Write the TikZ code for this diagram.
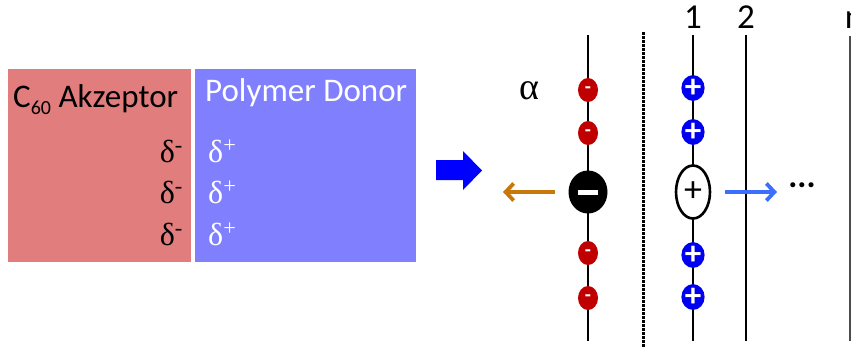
\documentclass[tikz,border=0pt]{standalone}
\usepackage{fontspec}
\setmainfont{Carlito}
\newfontfamily\grk{Liberation Serif}
\usetikzlibrary{shapes.geometric,arrows.meta,calc}

\definecolor{accred}{RGB}{225,125,125}
\definecolor{donblue}{RGB}{128,128,255}
\definecolor{chgred}{RGB}{192,0,0}
\definecolor{chgblue}{RGB}{0,0,240}
\definecolor{movorange}{RGB}{200,120,10}
\definecolor{movblue}{RGB}{60,110,255}

\tikzset{
  layer/.style={draw=black, line width=2.6pt},
  block/.style={anchor=north west, inner sep=0pt, minimum height=193pt},
  label/.style={font=\fontsize{33}{35}\selectfont, inner sep=0pt},
  index/.style={font=\fontsize{35}{36}\selectfont, inner sep=0pt},
  delta/.style={font=\grk\fontsize{32}{34}\selectfont, inner sep=0pt},
  negsmall/.style={ellipse, fill=chgred, minimum width=20pt, minimum height=24pt, inner sep=0pt,
    text=white, font=\bfseries\fontsize{20}{20}\selectfont},
  possmall/.style={ellipse, fill=chgblue, minimum width=21pt, minimum height=25pt, inner sep=0pt,
    text=white, font=\bfseries\fontsize{33}{33}\selectfont},
  move/.style={line width=3.8pt, -{Straight Barb[length=8pt,width=17pt]}},
}

\begin{document}
\begin{tikzpicture}[x=1pt,y=-1pt]
\useasboundingbox (0,0) rectangle (851,349);

% bilayer blocks
\node[block, fill=accred, minimum width=183pt] (acc) at (8,69) {};
\node[block, fill=donblue, minimum width=221pt] (don) at (195,69) {};

\node[label, anchor=base west] (acctitle) at (13,107) {C\raisebox{-7pt}{\fontsize{20}{20}\selectfont 60} Akzeptor};
\node[label, anchor=base west, text=white] (dontitle) at (205,101) {Polymer Donor};

\foreach \yy [count=\i] in {162,203,245}{
  \node[delta, anchor=base east] (dm\i) at (183,\yy) {δ\textsuperscript{-}};
  \node[delta, anchor=base west, text=white] (dp\i) at (208,\yy) {δ\textsuperscript{+}};
}

% block arrow
\fill[blue] (436,160) -- (463,160) -- (463,151) -- (482,170.5) -- (463,190) -- (463,180) -- (436,180) -- cycle;

% molecular chains
\coordinate (at) at (588,35);  \coordinate (ab) at (588,341);
\coordinate (d1t) at (693,35); \coordinate (d1b) at (693,341);
\coordinate (d2t) at (746,35); \coordinate (d2b) at (746,341);
\coordinate (dnt) at (850,36); \coordinate (dnb) at (850,341);
\coordinate (it) at (643,32);  \coordinate (ib) at (643,347);

\draw[layer] (at) -- (ab);
\draw[layer] (d1t) -- (d1b);
\draw[layer] (d2t) -- (d2b);
\draw[draw=black!70, line width=1.2pt] (dnt) -- (dnb);
\draw[line width=3pt, dash pattern=on 2.6pt off 1.4pt] (it) -- (ib);

\node[index, anchor=base] (n1) at (693,28) {1};
\node[index, anchor=base] (n2) at (746,28) {2};
\node[index, anchor=base] (nn) at (854,28) {n};
\node[font=\grk\fontsize{38}{38}\selectfont, inner sep=0pt] (alpha) at (529,91) {α};

% bound charges
\foreach \yy [count=\i] in {90,133,253,298}
  \node[negsmall] (m\i) at (588,\yy) {-};
\foreach \yy [count=\i] in {88,132,255,297}
  \node[possmall] (p\i) at (693,\yy) {+};

% separating charge pair
\node[ellipse, fill=black, minimum width=39pt, minimum height=43pt, inner sep=0pt] (elec) at (588,192) {};
\fill[white] ($(elec.center)+(-10,-2)$) rectangle ($(elec.center)+(10,2.5)$);
\node[ellipse, draw=black, line width=2.6pt, fill=white, minimum width=34pt, minimum height=53pt,
  inner sep=0pt, font=\fontsize{36}{36}\selectfont] (hole) at (693,192) {+};

\coordinate (eend) at (503,192);
\coordinate (hstart) at (725,192);
\coordinate (hend) at (777,192);
\draw[move, draw=movorange] ([xshift=-13pt]elec.west) -- (eend);
\draw[move, draw=movblue] (hstart) -- (hend);

\node[font=\bfseries\fontsize{34}{34}\selectfont, inner sep=0pt] (dots) at (802,185) {...};
\end{tikzpicture}
\end{document}
